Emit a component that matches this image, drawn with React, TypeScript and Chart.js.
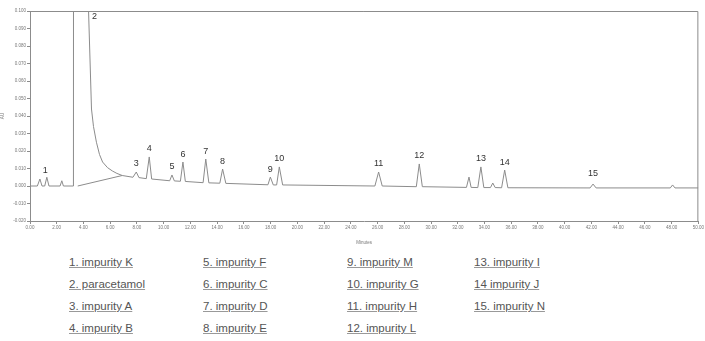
import React, { useEffect, useRef } from "react";
import { Chart, registerables } from "chart.js";

Chart.register(...registerables);

// Chromatogram trace (time in minutes, absorbance in AU)
const traceTime = [
  0.0, 0.55, 0.74, 0.9, 1.1, 1.26, 1.42, 2.25, 2.38, 2.5, 3.25, 3.3, 3.6, 4.38, 4.6, 4.75, 4.97, 5.2, 5.43, 5.8, 6.16, 6.5, 6.9,
  7.7, 7.95, 8.15, 8.7, 8.92, 9.1, 10.45, 10.62, 10.8, 11.25, 11.44, 11.62, 12.95, 13.15, 13.38, 14.2, 14.41,
  14.65, 17.8, 17.98, 18.2, 18.45, 18.65, 18.9, 25.8, 26.08, 26.35, 28.9, 29.12, 29.35, 32.65, 32.84, 33.0,
  33.5, 33.73, 33.95, 34.45, 34.62, 34.8, 35.28, 35.51, 35.75, 41.9, 42.12, 42.35, 47.9, 48.07, 48.25, 50.0,
];
const traceAU = [
  0.0, 0.0, 0.004, 0.0, 0.0, 0.005, 0.0, 0.0, 0.003, 0.0, 0.0, 1.5, 1.5, 0.1, 0.044, 0.034, 0.025, 0.018, 0.0137, 0.0105, 0.0086, 0.0072, 0.006,
  0.005, 0.008, 0.0048, 0.0042, 0.0166, 0.004, 0.003, 0.0063, 0.0029, 0.0027, 0.0137, 0.0026, 0.0019, 0.0154, 0.0018, 0.0016, 0.0097,
  0.0015, 0.0007, 0.0051, 0.0006, 0.0006, 0.0109, 0.0006, 0.0, 0.008, 0.0, -0.0004, 0.0126, -0.0004, -0.0008, 0.0051, -0.0008,
  -0.0009, 0.0109, -0.0009, -0.0009, 0.0017, -0.0009, -0.001, 0.0091, -0.001, -0.0011, 0.0011, -0.0011, -0.0011, 0.0006, -0.0011, -0.0011,
];

// Gradient baseline drawn under the paracetamol tail
const baselineTime = [3.57, 6.9];
const baselineAU = [0.0, 0.006];

// Peak annotations
const peakNumbers = ["1", "2", "3", "4", "5", "6", "7", "8", "9", "10", "11", "12", "13", "14", "15"];
const peakTimes = [1.15, 4.6, 7.95, 8.92, 10.62, 11.44, 13.15, 14.41, 17.98, 18.65, 26.08, 29.12, 33.73, 35.51, 42.12];
const peakApexAU = [0.0045, 0.1, 0.008, 0.0166, 0.0063, 0.0137, 0.0154, 0.0097, 0.0051, 0.0109, 0.008, 0.0126, 0.0109, 0.0091, 0.0025];

// Axis ranges
const xMin = 0;
const xMax = 50;
const xStep = 2;
const yMin = -0.02;
const yMax = 0.1;
const yStep = 0.01;

// Peak identification legend (4 columns)
const legendColumns = [
  ["1. impurity K", "2. paracetamol", "3. impurity A", "4. impurity B"],
  ["5. impurity F", "6. impurity C", "7. impurity D", "8. impurity E"],
  ["9. impurity M", "10. impurity G", "11. impurity H", "12. impurity L"],
  ["13. impurity I", "14 impurity J", "15. impurity N"],
];

const LINE = "#8c8c8c";

const frameAndLabels = {
  id: "frameAndLabels",
  afterDatasetsDraw(chart: any) {
    const { ctx, chartArea, scales } = chart;
    ctx.save();
    ctx.strokeStyle = LINE;
    ctx.lineWidth = 1;
    ctx.beginPath();
    ctx.moveTo(chartArea.left, chartArea.top + 0.5);
    ctx.lineTo(chartArea.right - 0.5, chartArea.top + 0.5);
    ctx.lineTo(chartArea.right - 0.5, chartArea.bottom);
    ctx.stroke();
    ctx.fillStyle = "#333";
    ctx.font = "9px 'Liberation Sans', Arial, sans-serif";
    ctx.textAlign = "center";
    ctx.textBaseline = "middle";
    peakNumbers.forEach((n, i) => {
      const px = scales.x.getPixelForValue(peakTimes[i]);
      let py = scales.y.getPixelForValue(peakApexAU[i]) - 8;
      if (py < chartArea.top + 6) py = chartArea.top + 6;
      ctx.fillText(n, px + (i === 1 ? 3 : 0), py);
    });
    ctx.restore();
  },
};

export default function App() {
  const canvasRef = useRef<HTMLCanvasElement | null>(null);

  useEffect(() => {
    if (!canvasRef.current) return;
    const tickFont = { size: 4.5, family: "'Liberation Sans', Arial, sans-serif" };
    const chart = new Chart(canvasRef.current, {
      type: "line",
      data: {
        datasets: [
          {
            data: traceTime.map((t, i) => ({ x: t, y: traceAU[i] })),
            borderColor: LINE,
            borderWidth: 1,
            pointRadius: 0,
            tension: 0,
            fill: false,
          },
          {
            data: baselineTime.map((t, i) => ({ x: t, y: baselineAU[i] })),
            borderColor: LINE,
            borderWidth: 1,
            pointRadius: 0,
            tension: 0,
            fill: false,
          },
        ],
      },
      options: {
        animation: false,
        responsive: false,
        maintainAspectRatio: false,
        layout: { padding: { top: 11, right: 2, left: 0, bottom: 0 } },
        plugins: { legend: { display: false }, tooltip: { enabled: false } },
        scales: {
          x: {
            type: "linear",
            min: xMin,
            max: xMax,
            afterFit: (s: any) => {
              s.height = 24;
            },
            ticks: {
              stepSize: xStep,
              autoSkip: false,
              maxRotation: 0,
              padding: 1,
              color: "#777",
              font: tickFont,
              callback: (v: any) => Number(v).toFixed(2),
            },
            grid: { drawOnChartArea: false, drawTicks: true, tickLength: 3, color: LINE },
            border: { display: true, color: LINE },
            title: { display: true, text: "Minutes", color: "#777", font: tickFont, padding: { top: 1, bottom: 0 } },
          },
          y: {
            type: "linear",
            min: yMin,
            max: yMax,
            afterFit: (s: any) => {
              s.width = 30;
            },
            ticks: {
              stepSize: yStep,
              padding: 1,
              color: "#777",
              font: tickFont,
              callback: (v: any) => Number(v).toFixed(3),
            },
            grid: { drawOnChartArea: false, drawTicks: true, tickLength: 3, color: LINE },
            border: { display: true, color: LINE },
            title: { display: true, text: "AU", color: "#777", font: tickFont, padding: { top: 0, bottom: 2 } },
          },
        },
      },
      plugins: [frameAndLabels],
    } as any);
    return () => chart.destroy();
  }, []);

  const colLefts = [69, 203, 347, 474];
  const rowTops = [255, 277, 299, 321];

  return (
    <div
      style={{
        position: "fixed",
        left: 0,
        top: 0,
        width: 705,
        height: 341,
        background: "#fff",
        overflow: "hidden",
      }}
    >
      <canvas ref={canvasRef} width={705} height={245} style={{ display: "block", width: 705, height: 245 }} />
      {legendColumns.map((col, ci) =>
        col.map((label, ri) => (
          <span
            key={`${ci}-${ri}`}
            style={{
              position: "absolute",
              left: colLefts[ci],
              top: rowTops[ri],
              fontFamily: "'Liberation Sans', Arial, sans-serif",
              fontSize: 11.5,
              lineHeight: "14px",
              color: "#555",
              textDecoration: "underline",
              textDecorationColor: "#999",
              whiteSpace: "nowrap",
            }}
          >
            {label}
          </span>
        ))
      )}
    </div>
  );
}
